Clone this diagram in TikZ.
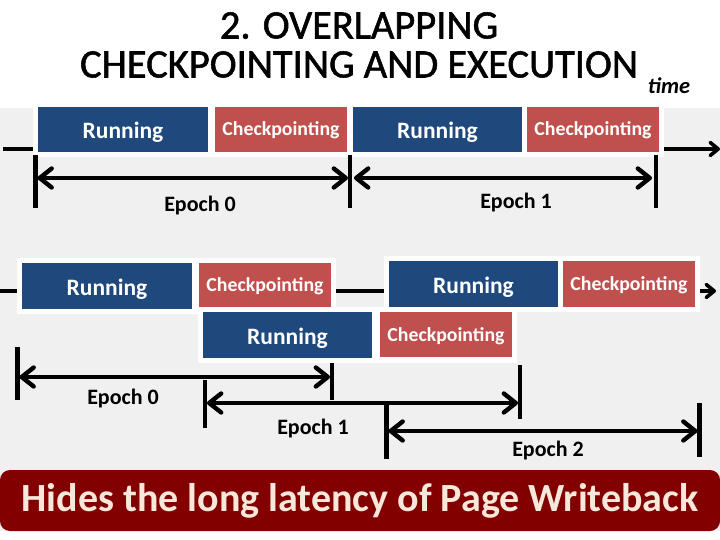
\documentclass[tikz,border=0pt]{standalone}
\usepackage{fontspec}
\setmainfont{Carlito}
\newfontfamily\heavyfont[FakeBold=1.3]{Carlito}
\usetikzlibrary{arrows.meta,positioning}
\definecolor{runblue}{HTML}{1F497D}
\definecolor{ckred}{HTML}{C0504D}
\definecolor{bggrey}{HTML}{F0F0F0}
\definecolor{banner}{HTML}{820000}
\definecolor{bannertext}{HTML}{F8E8DC}
\tikzset{
  x=1pt,y=-1pt,
  box/.style={anchor=north west,inner sep=0pt,outer sep=0pt,text=white,align=center,text depth=4pt},
  runbox/.style={box,fill=runblue,text height=22pt,font=\fontsize{23.5}{24}\selectfont\bfseries},
  ckbox/.style={box,fill=ckred,text height=17pt,font=\fontsize{19.8}{22}\selectfont\bfseries},
  halo/.style={fill=white,draw=none},
  tick/.style={line width=4.6pt,black},
  span/.style={line width=4.4pt,black,{Straight Barb[length=12pt,width=19pt,line width=4.4pt,round]}-{Straight Barb[length=12pt,width=19pt,line width=4.4pt,round]},shorten <=2pt,shorten >=2pt},
  flow/.style={line width=3.8pt,black},
  flowarrow/.style={flow,-{Straight Barb[length=8pt,width=13pt,line width=3.6pt,round]}},
  ep/.style={font=\fontsize{22}{22}\selectfont\bfseries,text=black,inner sep=0pt},
}
\newcommand{\rbox}[6]{% name x1 y1 x2 y2 text
  \node[runbox,minimum width={(#4-#2)*1pt},minimum height={(#5-#3)*1pt}] (#1) at (#2,#3) {#6};}
\newcommand{\cbox}[6]{%
  \node[ckbox,minimum width={(#4-#2)*1pt},minimum height={(#5-#3)*1pt}] (#1) at (#2,#3) {#6};}
\begin{document}
\begin{tikzpicture}
\useasboundingbox (0,0) rectangle (720,540);
\fill[white] (0,0) rectangle (720,540);
\fill[bggrey] (0,108) rectangle (720,531);
% white halos
\fill[halo] (33,102) rectangle (664,157);
\fill[halo] (17,258) rectangle (336,314);
\fill[halo] (384,256) rectangle (700,312);
\fill[halo] (198,307) rectangle (517,363);
% boxes
\rbox{ra}{38}{107}{208}{152}{Running}
\cbox{ca}{215}{107}{347}{152}{Checkpointing}
\rbox{rb}{353}{107}{522}{152}{Running}
\cbox{cb}{527}{107}{659}{152}{Checkpointing}
\rbox{rc}{22}{263}{192}{309}{Running}
\cbox{cc}{199}{263}{331}{307}{Checkpointing}
\rbox{rd}{389}{261}{558}{307}{Running}
\cbox{cd}{563}{261}{695}{307}{Checkpointing}
\rbox{re}{203}{312}{372}{358}{Running}
\cbox{ce}{380}{312}{512}{357}{Checkpointing}
% title
\node[font=\fontsize{40.5}{39}\heavyfont,align=center,inner sep=0pt,text=black] (title) at (359,45) {2. OVERLAPPING\\CHECKPOINTING AND EXECUTION};
\node[font=\fontsize{22.5}{22}\selectfont\bfseries\itshape,inner sep=0pt] (timelbl) at (669,86) {time};
% flow lines
\coordinate (fa) at (3,149);
\coordinate (fb) at (720,149);
\coordinate (fc) at (0,291);
\coordinate (fd) at (716,291);
\draw[flow] (fa) -- (33,149);
\draw[flowarrow] (664,149) -- (fb);
\draw[flow] (fc) -- (17,291);
\draw[flow] (336,291) -- (384,291);
\draw[flowarrow] (700,291) -- (fd);
% top epochs
\coordinate (t0a) at (35.5,155); \coordinate (t0b) at (35.5,208);
\coordinate (t1a) at (350,155); \coordinate (t1b) at (350,208);
\coordinate (t2a) at (656,155); \coordinate (t2b) at (656,208);
\draw[tick] (t0a) -- (t0b);
\draw[tick] (t1a) -- (t1b);
\draw[tick] (t2a) -- (t2b);
\coordinate (s0) at (35.5,178); \coordinate (s1) at (350,178);
\coordinate (s1b) at (352,178); \coordinate (s2) at (654,178);
\draw[span] (s0) -- (s1);
\draw[span] (s1b) -- (s2);
\node[ep] (e0) at (200,206) {Epoch 0};
\node[ep] (e1) at (516,203) {Epoch 1};
% bottom epochs
\coordinate (u0a) at (17.5,347); \coordinate (u0b) at (17.5,400);
\coordinate (u1a) at (332,363); \coordinate (u1b) at (332,400);
\coordinate (u2a) at (205,380); \coordinate (u2b) at (205,428);
\coordinate (u3a) at (520,365); \coordinate (u3b) at (520,419);
\coordinate (u4a) at (386.5,405); \coordinate (u4b) at (386.5,459);
\coordinate (u5a) at (699.5,403); \coordinate (u5b) at (699.5,457);
\foreach \a/\b in {u0a/u0b,u1a/u1b,u2a/u2b,u3a/u3b,u4a/u4b,u5a/u5b} \draw[tick] (\a) -- (\b);
\coordinate (v0) at (17.5,377); \coordinate (v1) at (332,377);
\coordinate (v2) at (205,403); \coordinate (v3) at (520,403);
\coordinate (v4) at (386.5,431); \coordinate (v5) at (699.5,431);
\draw[span] (v0) -- (v1);
\draw[span] (v2) -- (v3);
\draw[span] (v4) -- (v5);
\node[ep] (f0) at (123,399) {Epoch 0};
\node[ep] (f1) at (313,429) {Epoch 1};
\node[ep] (f2) at (548,451) {Epoch 2};
% banner
\node[anchor=north west,inner sep=0pt,outer sep=0pt,minimum width=720pt,minimum height=61pt,fill=banner,rounded corners=10pt,text=bannertext,font=\fontsize{40}{40}\selectfont\bfseries] (ban) at (0,470) {Hides the long latency of Page Writeback};
\end{tikzpicture}
\end{document}
